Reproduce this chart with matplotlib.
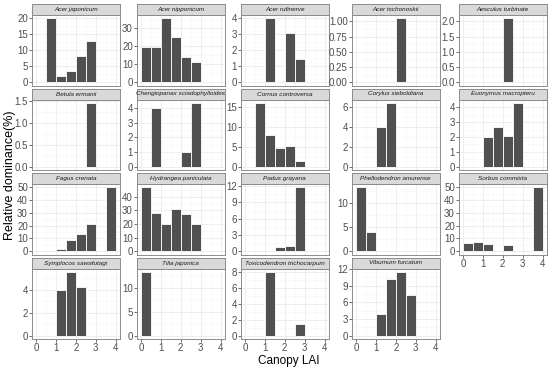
import matplotlib
matplotlib.use('Agg')
import matplotlib.pyplot as plt
from matplotlib.ticker import MultipleLocator

plt.rcParams['font.family'] = ['Liberation Sans', 'DejaVu Sans']

# species (facet order) and histogram bars: bin centres (Canopy LAI) and heights
species = ['Acer japonicum', 'Acer nipponicum', 'Acer rufinerve', 'Acer tschonoskii',
           'Aesculus turbinate', 'Betula ermanii', 'Chengiopanax sciadophylloides',
           'Cornus controversa', 'Corylus sieboldiana', 'Euonymus macropteru',
           'Fagus crenata', 'Hydrangea paniculata', 'Padus grayana',
           'Phellodendron amurense', 'Sorbus commixta', 'Symplocos sawafutagi',
           'Tilia japonica', 'Toxicodendron trichocarpum', 'Viburnum furcatum']

lai = [[0.75, 1.25, 1.75, 2.25, 2.75],
       [0.25, 0.75, 1.25, 1.75, 2.25, 2.75],
       [1.25, 2.25, 2.75],
       [2.25],
       [2.25],
       [2.75],
       [0.75, 2.25, 2.75],
       [0.75, 1.25, 1.75, 2.25, 2.75],
       [1.25, 1.75],
       [1.25, 1.75, 2.25, 2.75],
       [1.25, 1.75, 2.25, 2.75, 3.75],
       [0.25, 0.75, 1.25, 1.75, 2.25, 2.75],
       [1.75, 2.25, 2.75],
       [0.25, 0.75],
       [0.25, 0.75, 1.25, 2.25, 3.75],
       [1.25, 1.75, 2.25],
       [0.25],
       [1.25, 2.75],
       [1.25, 1.75, 2.25, 2.75]]

dominance = [[20, 1.9, 3.6, 8.2, 13],
             [19.6, 19.6, 35.7, 25.2, 14.2, 11.4],
             [4.0, 3.1, 1.43],
             [1.05],
             [2.1],
             [1.46],
             [4.0, 1.02, 4.35],
             [16.1, 8.06, 4.6, 5.2, 1.46],
             [4.0, 6.4],
             [2.0, 2.7, 2.06, 4.3],
             [2.1, 9.0, 13.3, 21.5, 50],
             [47, 28.3, 20, 31.3, 27.3, 20.3],
             [0.75, 0.9, 11.8],
             [13.2, 3.9],
             [6.2, 7.5, 5.8, 4.9, 50],
             [4.0, 5.54, 4.2],
             [13.45],
             [8.0, 1.41],
             [4.0, 10.2, 11.5, 7.3]]

# major y tick step per panel
ystep = [5, 10, 1, 0.25, 0.5, 0.5, 1, 5, 2, 1, 10, 10, 3, 5, 10, 2, 5, 2, 3]
ydec = [0, 0, 0, 2, 1, 1, 0, 0, 0, 0, 0, 0, 0, 0, 0, 0, 0, 0, 0]

W, H = 550, 368
fig = plt.figure(figsize=(5.5, 3.68), dpi=100)

col_left = [32, 137, 241, 352, 459]
row_top = [4, 88.5, 173, 257.5]
pw, sh, ph = 87.5, 11, 70.5

for i, name in enumerate(species):
    r, c = divmod(i, 5)
    x0 = col_left[c]
    top = row_top[r]
    ax = fig.add_axes([x0 / W, 1 - (top + sh + ph) / H, pw / W, ph / H])
    ax.bar(lai[i], dominance[i], width=0.5, color='#505050', edgecolor='white', linewidth=0.6, zorder=3)
    ymax = max(dominance[i])
    ax.set_ylim(-0.05 * ymax, 1.05 * ymax)
    ax.set_xlim(-0.2, 4.2)
    ax.xaxis.set_major_locator(MultipleLocator(1))
    ax.xaxis.set_minor_locator(MultipleLocator(0.5))
    ax.yaxis.set_major_locator(MultipleLocator(ystep[i]))
    ax.yaxis.set_minor_locator(MultipleLocator(ystep[i] / 2))
    d = ydec[i]
    ax.yaxis.set_major_formatter(matplotlib.ticker.FuncFormatter(lambda v, p, d=d: f'{v:.{d}f}'))
    ax.grid(which='major', color='#EBEBEB', linewidth=0.6, zorder=0)
    ax.grid(which='minor', color='#F5F5F5', linewidth=0.4, zorder=0)
    ax.tick_params(which='minor', length=0)
    ax.tick_params(which='major', length=2, width=0.5, color='#333333',
                   labelsize=7, labelcolor='#4D4D4D', pad=1)
    bottom_panel = (r == 3) or (r == 2 and c == 4)
    if not bottom_panel:
        ax.tick_params(axis='x', labelbottom=False, length=0)
    for s in ax.spines.values():
        s.set_color('#8C8C8C')
        s.set_linewidth(0.7)

    sax = fig.add_axes([x0 / W, 1 - (top + sh) / H, pw / W, sh / H])
    sax.set_facecolor('#D9D9D9')
    sax.set_xticks([])
    sax.set_yticks([])
    for s in sax.spines.values():
        s.set_color('#8C8C8C')
        s.set_linewidth(0.7)
    sax.text(0.5, 0.5, name, ha='center', va='center', fontsize=4.6,
             style='italic', color='#1A1A1A', transform=sax.transAxes)

fig.text(289 / W, 1 - 361 / H, 'Canopy LAI', ha='center', va='center', fontsize=8.5)
fig.text(10 / W, 1 - 175 / H, 'Relative dominance(%)', ha='center', va='center',
         rotation=90, fontsize=9)

fig.savefig('out.png', dpi=100)
